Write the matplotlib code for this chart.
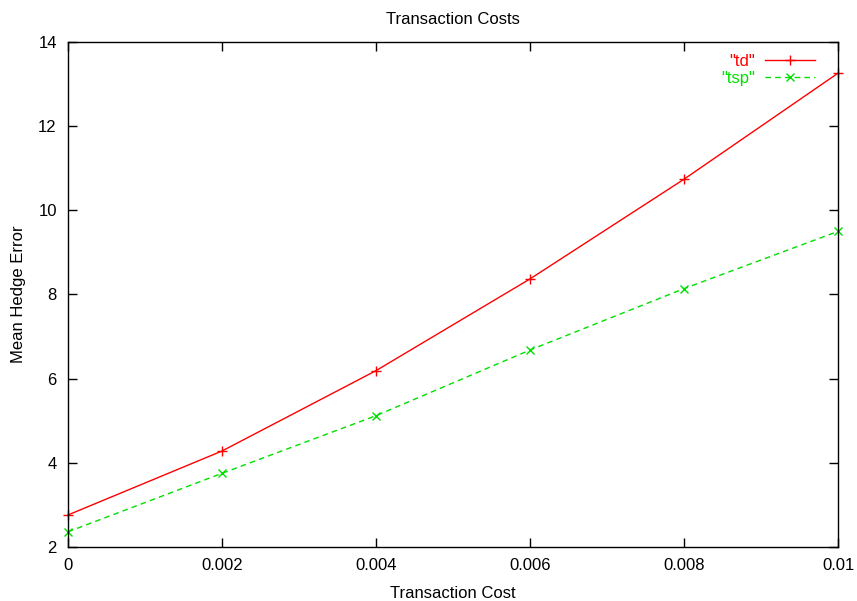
import matplotlib
matplotlib.use("Agg")
import matplotlib.pyplot as plt

# data
cost = [0.0, 0.002, 0.004, 0.006, 0.008, 0.01]
td = [2.76, 4.28, 6.19, 8.37, 10.74, 13.26]
tsp = [2.36, 3.75, 5.12, 6.68, 8.14, 9.50]

plt.rcParams.update({
    "font.family": "Liberation Sans",
    "font.size": 12,
})

fig = plt.figure(figsize=(8.57, 6.01), dpi=100)
ax = fig.add_axes([0.0793, 0.0899, 0.8987, 0.8403])

ax.plot(cost, td, "-", color="#ff0000", linewidth=1, marker="+",
        markersize=7, markeredgewidth=1, label='"td"', clip_on=False)
ax.plot(cost, tsp, "--", color="#00e000", linewidth=1, marker="x",
        markersize=6, markeredgewidth=1, dashes=(4, 3), label='"tsp"',
        clip_on=False)

ax.set_xlim(0, 0.01)
ax.set_ylim(2, 14)
ax.set_xticks([0, 0.002, 0.004, 0.006, 0.008, 0.01])
ax.set_xticklabels(["0", "0.002", "0.004", "0.006", "0.008", "0.01"])
ax.set_yticks([2, 4, 6, 8, 10, 12, 14])
ax.tick_params(direction="in", top=True, right=True, length=6.5, width=1, pad=8)
for s in ax.spines.values():
    s.set_linewidth(1)

ax.set_xlabel("Transaction Cost", labelpad=9)
ax.set_ylabel("Mean Hedge Error", labelpad=9)
ax.set_title("Transaction Costs", fontsize=12, pad=13)

ax.legend(loc="upper right", frameon=False, markerfirst=False,
          handlelength=3.0, handletextpad=0.6, labelcolor="linecolor",
          borderaxespad=0.3, labelspacing=0.15, fontsize=12,
          bbox_to_anchor=(0.985, 1.0))

fig.savefig("out.png", dpi=100)
